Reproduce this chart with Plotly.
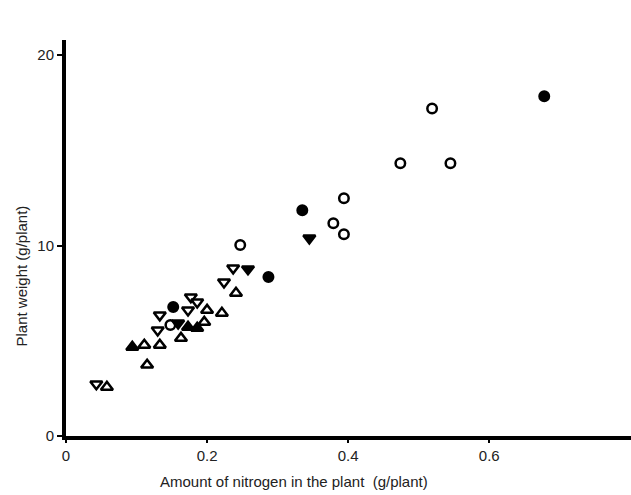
import plotly.graph_objects as go

# Amount of nitrogen in the plant (g/plant) vs plant weight (g/plant)
filled_circle_x = [0.678, 0.335, 0.287, 0.152]
filled_circle_y = [17.85, 11.86, 8.35, 6.77]

open_circle_x = [0.519, 0.474, 0.545, 0.394, 0.379, 0.394, 0.247, 0.148]
open_circle_y = [17.2, 14.33, 14.33, 12.49, 11.18, 10.6, 10.03, 5.83]

filled_down_x = [0.345, 0.258, 0.159]
filled_down_y = [10.39, 8.77, 5.93]

open_down_x = [0.237, 0.224, 0.177, 0.186, 0.173, 0.133, 0.130, 0.043]
open_down_y = [8.82, 8.08, 7.30, 7.03, 6.61, 6.35, 5.56, 2.73]

open_up_x = [0.241, 0.221, 0.200, 0.196, 0.163, 0.133, 0.111, 0.115, 0.058]
open_up_y = [7.51, 6.46, 6.61, 5.98, 5.14, 4.78, 4.78, 3.73, 2.57]

filled_up_x = [0.094, 0.173, 0.186]
filled_up_y = [4.67, 5.72, 5.67]

x_ticks = [0, 0.2, 0.4, 0.6]
x_tick_labels = ["0", "0.2", "0.4", "0.6"]
y_ticks = [0, 10, 20]
y_tick_labels = ["0", "10", "20"]

FONT = "Liberation Sans, Arial, sans-serif"

fig = go.Figure()

def add(xs, ys, symbol, filled, size):
    fig.add_trace(go.Scatter(
        x=xs, y=ys, mode="markers", showlegend=False,
        marker=dict(symbol=symbol, size=size,
                    color="black" if filled else "white",
                    line=dict(color="black", width=2.5)),
    ))

add(open_circle_x, open_circle_y, "circle", False, 9.5)
add(open_up_x, open_up_y, "triangle-up", False, 10.5)
add(open_down_x, open_down_y, "triangle-down", False, 10.5)
add(filled_circle_x, filled_circle_y, "circle", True, 9.5)
add(filled_down_x, filled_down_y, "triangle-down", True, 10.5)
add(filled_up_x, filled_up_y, "triangle-up", True, 10.5)

fig.update_layout(
    width=631, height=495,
    margin=dict(l=66, r=0, t=40, b=59),
    paper_bgcolor="white", plot_bgcolor="white",
    font=dict(family=FONT, size=15, color="#222"),
    xaxis=dict(range=[0, 0.801], tickvals=x_ticks, ticktext=x_tick_labels,
               showgrid=False, zeroline=False, showline=True, linecolor="black",
               linewidth=4, ticks="outside", ticklen=3, tickwidth=1.5,
               tickcolor="black"),
    yaxis=dict(range=[0, 20.8], tickvals=y_ticks, ticktext=y_tick_labels,
               showgrid=False, zeroline=False, showline=True, linecolor="black",
               linewidth=4, ticks="outside", ticklen=5, tickwidth=1.5,
               tickcolor="black"),
    annotations=[
        dict(text="Plant weight (g/plant)", textangle=-90,
             xref="paper", yref="paper", x=-0.078, y=0.405,
             xanchor="center", yanchor="middle",
             showarrow=False, font=dict(size=15, family=FONT)),
        dict(text="Amount of nitrogen in the plant  (g/plant)",
             xref="paper", yref="paper", x=0.403, y=-0.116,
             xanchor="center", yanchor="middle",
             showarrow=False, font=dict(size=15, family=FONT)),
    ],
)

fig.write_html("out.html")
